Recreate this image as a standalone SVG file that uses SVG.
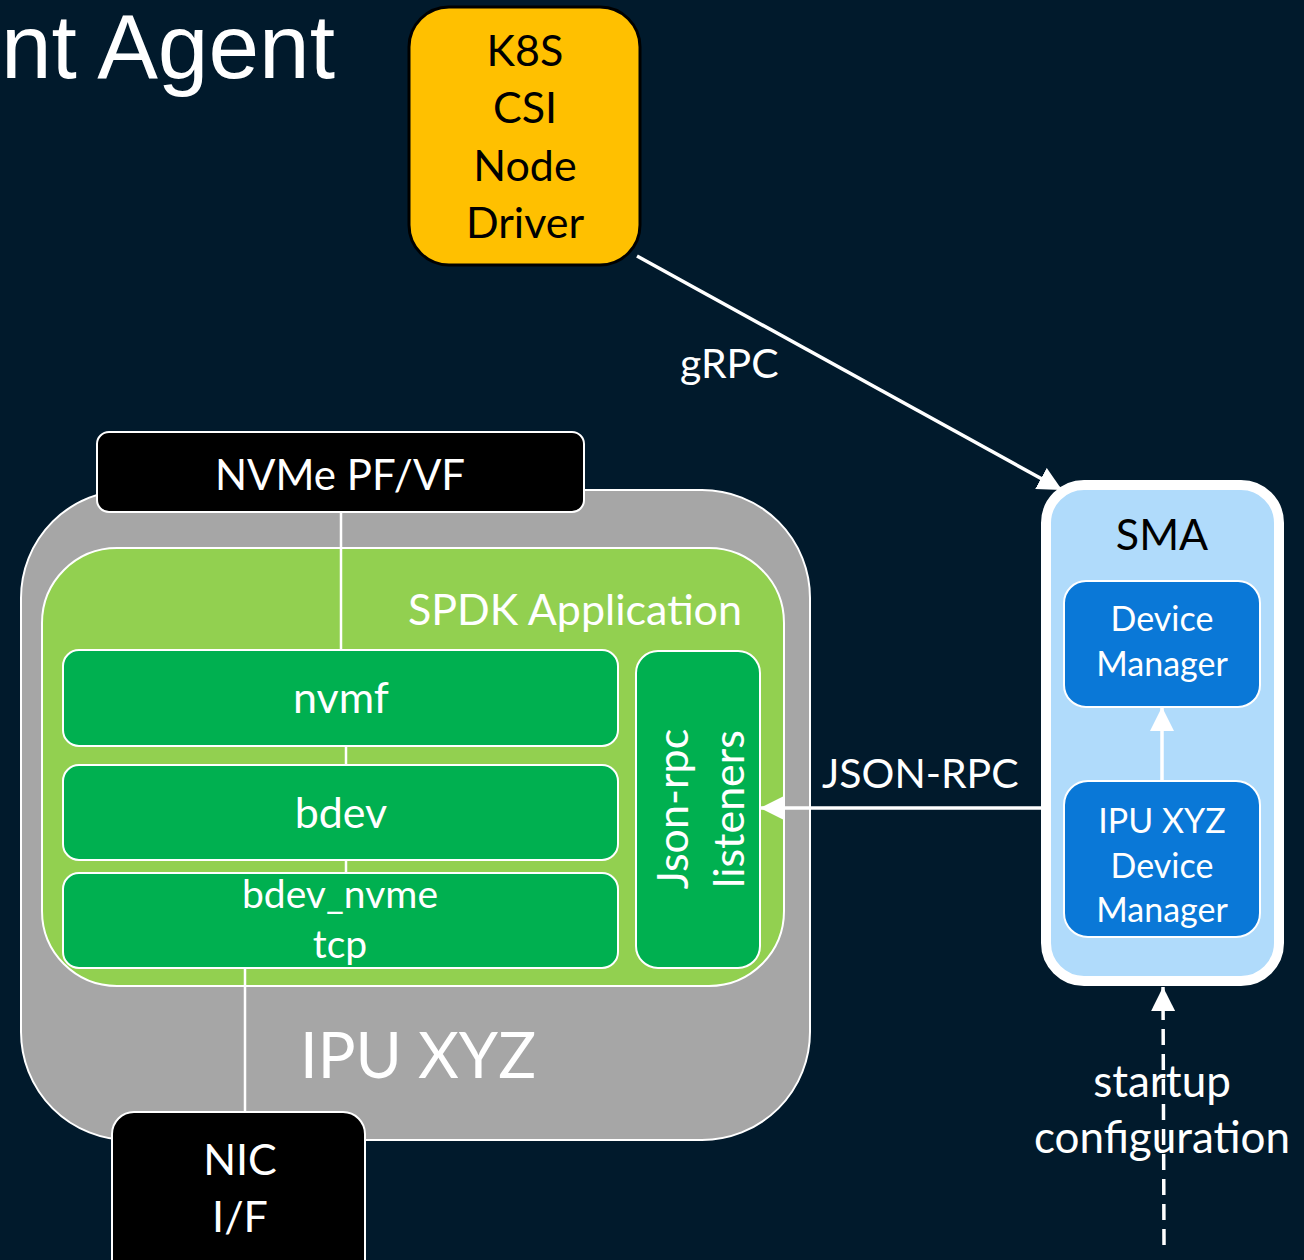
<svg xmlns="http://www.w3.org/2000/svg" width="1304" height="1260" viewBox="0 0 1304 1260">
<defs>
<style>
.t{font-family:Lato,"Open Sans",sans-serif;fill:#fff;font-size:43px}
.c{text-anchor:middle}
.k{fill:#000}
.ln{stroke:#fff;stroke-width:3.5;fill:none}
.thin{stroke:#fff;stroke-width:2.5;fill:none}
</style>
<marker id="ah" viewBox="0 0 12 12" refX="12" refY="6" markerWidth="24" markerHeight="24" markerUnits="userSpaceOnUse" orient="auto">
<path d="M0,0 L12,6 L0,12 z" fill="#fff"/>
</marker>
</defs>
<rect width="1304" height="1260" fill="#011a2c"/>
<text x="1" y="78" style="font-family:'Liberation Sans',Arial,sans-serif;font-size:91px;fill:#fff">nt Agent</text>

<g id="k8s">
<rect x="409" y="7" width="231" height="258" rx="40" fill="#ffc000" stroke="#000" stroke-width="3"/>
<text class="t c k" x="525" y="66">K8S</text>
<text class="t c k" x="525" y="123">CSI</text>
<text class="t c k" x="525" y="181">Node</text>
<text class="t c k" x="525" y="238">Driver</text>
</g>

<g id="ipu">
<rect x="21" y="490" width="789" height="650" rx="108" fill="#a6a6a6" stroke="#fff" stroke-width="2"/>
<text class="t" x="300" y="1078" style="font-size:63px">IPU XYZ</text>
</g>

<g id="spdk">
<rect x="42" y="548" width="742" height="438" rx="75" fill="#92d050" stroke="#fff" stroke-width="2"/>
<text class="t" x="742" y="625" text-anchor="end">SPDK Application</text>
</g>

<g id="nvme">
<rect x="97" y="432" width="487" height="80" rx="12" fill="#000" stroke="#fff" stroke-width="2"/>
<text class="t c" x="340" y="490" style="font-size:42px">NVMe PF/VF</text>
</g>

<g id="nvmf">
<rect x="63" y="650" width="555" height="96" rx="16" fill="#00b050" stroke="#fff" stroke-width="2"/>
<text class="t c" x="341" y="713">nvmf</text>
</g>

<g id="bdev">
<rect x="63" y="765" width="555" height="95" rx="16" fill="#00b050" stroke="#fff" stroke-width="2"/>
<text class="t c" x="341" y="828">bdev</text>
</g>

<g id="bdev_nvme">
<rect x="63" y="873" width="555" height="95" rx="16" fill="#00b050" stroke="#fff" stroke-width="2"/>
<text class="t c" x="340" y="908" style="font-size:39px">bdev_nvme</text>
<text class="t c" x="340" y="958" style="font-size:39px">tcp</text>
</g>

<g id="jsonrpc">
<rect x="636" y="651" width="124" height="317" rx="22" fill="#00b050" stroke="#fff" stroke-width="2"/>
<text class="t c" transform="translate(688,809) rotate(-90)">Json-rpc</text>
<text class="t c" transform="translate(744,809) rotate(-90)">listeners</text>
</g>

<g id="nic">
<rect x="112" y="1112" width="253" height="170" rx="22" fill="#000" stroke="#fff" stroke-width="2"/>
<text class="t c" x="240" y="1175">NIC</text>
<text class="t c" x="240" y="1232">I/F</text>
</g>

<g id="sma">
<rect x="1046" y="485" width="233" height="496" rx="38" fill="#b0dbfb" stroke="#fff" stroke-width="10"/>
<text class="t c k" x="1162" y="550">SMA</text>
</g>

<g id="dm">
<rect x="1064" y="581" width="196" height="126" rx="22" fill="#0a78d7" stroke="#fff" stroke-width="2"/>
<text class="t c" x="1162" y="631" style="font-size:34px">Device</text>
<text class="t c" x="1162" y="676" style="font-size:34px">Manager</text>
</g>

<g id="ipudm">
<rect x="1064" y="781" width="196" height="156" rx="24" fill="#0a78d7" stroke="#fff" stroke-width="2"/>
<text class="t c" x="1162" y="833" style="font-size:34px">IPU XYZ</text>
<text class="t c" x="1162" y="878" style="font-size:34px">Device</text>
<text class="t c" x="1162" y="922" style="font-size:34px">Manager</text>
</g>

<g id="startup">
<text class="t c" x="1162" y="1097" style="font-size:44px">startup</text>
<text class="t c" x="1162" y="1153" style="font-size:44px">configuration</text>
</g>

<g id="connectors">
<line class="thin" x1="341" y1="513" x2="341" y2="649"/>
<line class="thin" x1="346" y1="747" x2="346" y2="764"/>
<line class="thin" x1="346" y1="861" x2="346" y2="872"/>
<line class="thin" x1="245" y1="969" x2="245" y2="1111"/>
<line class="ln" x1="637" y1="256" x2="1062" y2="490" marker-end="url(#ah)"/>
<line class="ln" x1="1041" y1="808" x2="760" y2="808" marker-end="url(#ah)"/>
<line class="ln" x1="1162" y1="781" x2="1162" y2="707" marker-end="url(#ah)"/>
<line class="ln" x1="1164" y1="1245" x2="1163" y2="987" stroke-dasharray="16 9" marker-end="url(#ah)"/>
<text class="t" x="680" y="378" style="font-size:41px">gRPC</text>
<text class="t" x="822" y="788" style="font-size:41px">JSON-RPC</text>
</g>
</svg>
